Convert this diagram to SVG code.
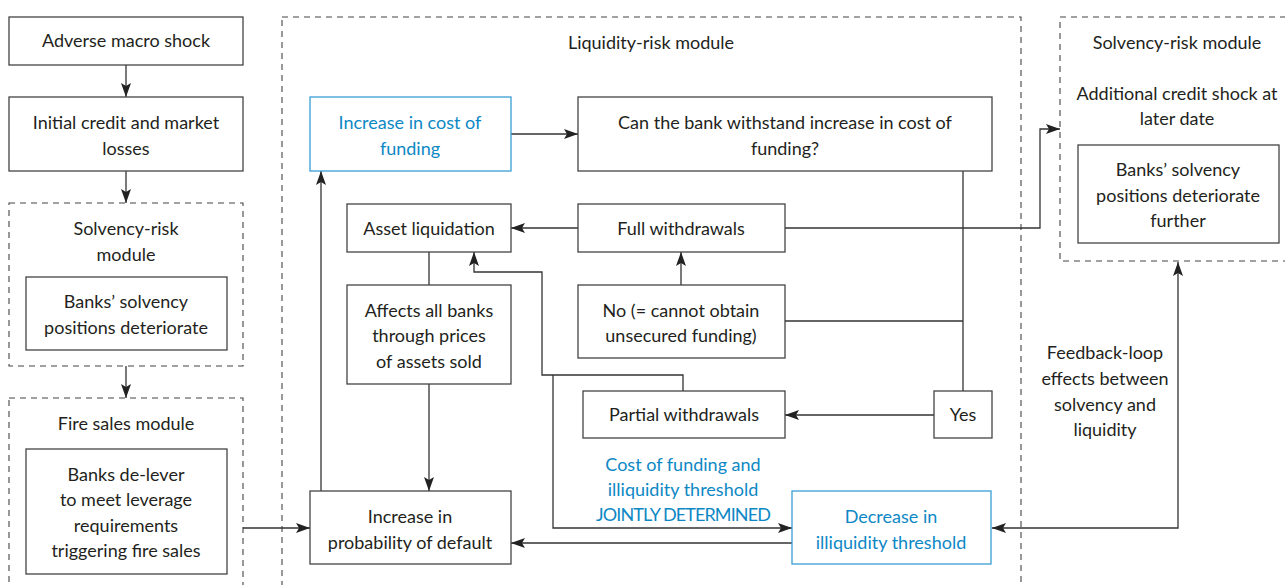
<svg xmlns="http://www.w3.org/2000/svg" width="1285" height="585" viewBox="0 0 1285 585">
<defs>
<marker id="arr" viewBox="0 0 14 10" refX="14" refY="5" markerWidth="14" markerHeight="10" orient="auto-start-reverse" markerUnits="userSpaceOnUse">
<path d="M0,0 L14,5 L0,10 L3,5 z" fill="#222"/>
</marker>
</defs>
<style>
rect.box{fill:#fff;stroke:#444;stroke-width:1.3}
rect.blue{fill:#fff;stroke:#3a9fd6;stroke-width:1.3}
rect.mod{fill:none;stroke:#444;stroke-width:1.1;stroke-dasharray:6 5}
text{font-family:Lato,"Liberation Sans",sans-serif;font-size:18px;fill:#231f20;text-anchor:middle}
text.b{fill:#0d88c5}
.c path{fill:none;stroke:#333;stroke-width:1.3}
.c path.a{marker-end:url(#arr)}
</style>
<rect width="1285" height="585" fill="#fff"/>

<g id="mod-solvency-left">
<rect class="mod" x="9" y="203" width="234" height="163"/>
<text x="126" y="235">Solvency-risk</text>
<text x="126" y="261">module</text>
</g>
<g id="mod-fire-sales">
<rect class="mod" x="9" y="398" width="234" height="210"/>
<text x="126" y="430">Fire sales module</text>
</g>
<g id="mod-liquidity">
<rect class="mod" x="282" y="17" width="739" height="591"/>
<text x="651" y="49">Liquidity-risk module</text>
</g>
<g id="mod-solvency-right">
<rect class="mod" x="1060" y="17" width="240" height="244"/>
<text x="1177" y="49">Solvency-risk module</text>
<text x="1177" y="100">Additional credit shock at</text>
<text x="1177" y="125">later date</text>
</g>

<g class="c" id="connectors">
<path class="a" d="M126,65 V97"/>
<path class="a" d="M126,171 V203"/>
<path class="a" d="M126,366 V398"/>
<path class="a" d="M243,528 H310"/>
<path class="a" d="M511,134 H578"/>
<path class="a" d="M578,228 H511"/>
<path d="M429,252 V285"/>
<path class="a" d="M429,384 V491"/>
<path class="a" d="M321,491 V171"/>
<path class="a" d="M681,285 V252"/>
<path d="M785,321 H963"/>
<path d="M963,171 V391"/>
<path class="a" d="M934,415 H785"/>
<path class="a" d="M683,391 V375 H542 V272 H474 V252"/>
<path class="a" d="M553,375 V528 H792"/>
<path class="a" d="M792,543 H511"/>
<path class="a" d="M785,228 H1040 V129 H1060"/>
<path class="a" d="M992,528 H1178 V262" style="marker-start:url(#arr)"/>
</g>

<g id="n-shock">
<rect class="box" x="9" y="17" width="234" height="48"/>
<text x="126" y="47">Adverse macro shock</text>
</g>
<g id="n-initial">
<rect class="box" x="9" y="97" width="234" height="74"/>
<text x="126" y="129">Initial credit and market</text>
<text x="126" y="155">losses</text>
</g>
<g id="n-solvency-left">
<rect class="box" x="26" y="277" width="201" height="73"/>
<text x="126" y="308">Banks’ solvency</text>
<text x="126" y="334">positions deteriorate</text>
</g>
<g id="n-delever">
<rect class="box" x="26" y="449" width="201" height="125"/>
<text x="126" y="481">Banks de-lever</text>
<text x="126" y="506">to meet leverage</text>
<text x="126" y="532">requirements</text>
<text x="126" y="557">triggering fire sales</text>
</g>
<g id="n-cost">
<rect class="blue" x="310" y="97" width="201" height="74"/>
<text class="b" x="410" y="129">Increase in cost of</text>
<text class="b" x="410" y="155">funding</text>
</g>
<g id="n-can">
<rect class="box" x="578" y="97" width="414" height="74"/>
<text x="785" y="129">Can the bank withstand increase in cost of</text>
<text x="785" y="155">funding?</text>
</g>
<g id="n-asset">
<rect class="box" x="347" y="204" width="164" height="48"/>
<text x="429" y="235">Asset liquidation</text>
</g>
<g id="n-full">
<rect class="box" x="578" y="204" width="207" height="48"/>
<text x="681" y="235">Full withdrawals</text>
</g>
<g id="n-affects">
<rect class="box" x="347" y="285" width="164" height="99"/>
<text x="429" y="317">Affects all banks</text>
<text x="429" y="342">through prices</text>
<text x="429" y="368">of assets sold</text>
</g>
<g id="n-no">
<rect class="box" x="578" y="285" width="207" height="73"/>
<text x="681" y="317">No (= cannot obtain</text>
<text x="681" y="342">unsecured funding)</text>
</g>
<g id="n-partial">
<rect class="box" x="583" y="391" width="202" height="47"/>
<text x="684" y="421">Partial withdrawals</text>
</g>
<g id="n-yes">
<rect class="box" x="934" y="391" width="58" height="47"/>
<text x="963" y="421">Yes</text>
</g>
<g id="n-joint">
<text class="b" x="683" y="471">Cost of funding and</text>
<text class="b" x="683" y="496">illiquidity threshold</text>
<text class="b" x="683" y="521" style="letter-spacing:-0.9px">JOINTLY DETERMINED</text>
</g>
<g id="n-pd">
<rect class="box" x="310" y="491" width="201" height="73"/>
<text x="410" y="523">Increase in</text>
<text x="410" y="549">probability of default</text>
</g>
<g id="n-decrease">
<rect class="blue" x="792" y="491" width="199" height="73"/>
<text class="b" x="891" y="523">Decrease in</text>
<text class="b" x="891" y="549">illiquidity threshold</text>
</g>
<g id="n-solvency-right">
<rect class="box" x="1078" y="145" width="201" height="98"/>
<text x="1178" y="176">Banks’ solvency</text>
<text x="1178" y="202">positions deteriorate</text>
<text x="1178" y="227">further</text>
</g>
<g id="n-feedback">
<text x="1105" y="359">Feedback-loop</text>
<text x="1105" y="385">effects between</text>
<text x="1105" y="411">solvency and</text>
<text x="1105" y="436">liquidity</text>
</g>
</svg>
